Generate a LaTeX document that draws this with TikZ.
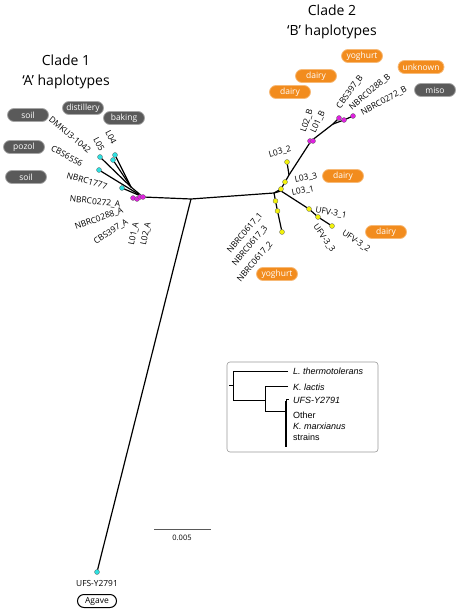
\documentclass[tikz,border=0pt]{standalone}
\usepackage{fontspec}
\setmainfont{Open Sans}
\newfontfamily\insetfont{Liberation Sans}
\usetikzlibrary{positioning}
\definecolor{pillgrey}{HTML}{5A5A5A}
\definecolor{pillorange}{HTML}{F28C1E}
\definecolor{tipcyan}{HTML}{2EE0E0}
\definecolor{tipmagenta}{HTML}{E020E0}
\definecolor{tipyellow}{HTML}{F2F20A}

\begin{document}
\begin{tikzpicture}[x=1pt,y=-1pt]
\tikzset{branch/.style={line width=1.2pt, black},
		leaf/.style={font=\fontsize{8.4}{9}\selectfont, inner sep=0pt},
		title/.style={font=\fontsize{14}{20}\selectfont, align=center},
		tipA/.style={circle, draw=black!60, line width=0.3pt, fill=tipcyan, inner sep=0pt, minimum size=5pt},
		tipM/.style={tipA, fill=tipmagenta},
		tipB/.style={tipA, fill=tipyellow},
		pill/.style={rectangle, rounded corners=6.5pt, minimum width=41pt, minimum height=13pt, inner sep=1pt, text=white, font=\fontsize{8.5}{9}\selectfont, line width=0.8pt},
		grey/.style={pill, fill=pillgrey, draw=black!35},
		orange/.style={pill, fill=pillorange, draw=pillorange!60},
		plain/.style={pill, fill=white, draw=black, text=black, line width=1pt},
		inset/.style={font=\insetfont\fontsize{9}{10}\selectfont, anchor=west, inner sep=0pt}}
\useasboundingbox (0,0) rectangle (459,612);

% titles
\node[title] (C1) at (66,72) {Clade 1\\‘A’ haplotypes};
\node[title] (C2) at (332,22) {Clade 2\\‘B’ haplotypes};

% tree skeleton
\coordinate (LH) at (143,197);
\coordinate (J) at (191,199);
\coordinate (RH) at (274,193);
\coordinate (Agv) at (97,572);
\coordinate (LA) at (131,187);
\coordinate (xL04) at (115,155);
\coordinate (xL05) at (113,160);
\coordinate (xDMK) at (100,157);
\coordinate (xCBS) at (99,170);
\coordinate (xN77) at (122,188);
\coordinate (RU) at (281,191);
\coordinate (xL031) at (281,189);
\coordinate (xL033) at (285,182);
\coordinate (RK) at (289,175);
\coordinate (xL032) at (287,162);
\coordinate (RM) at (311,141);
\coordinate (RP) at (333,124);
\coordinate (xCB) at (339,118);
\coordinate (xN88) at (344,120);
\coordinate (xN72) at (353,116);
\coordinate (xU1) at (309,209);
\coordinate (xU3) at (318,217);
\coordinate (xU2) at (332,226);
\coordinate (xN1) at (275.5,201);
\coordinate (xN3) at (277.5,211);
\coordinate (xN2) at (282,232);

\draw[branch] (LH) -- (J) -- (RH);
\draw[branch] (J) -- (Agv);
\draw[branch] (LH) -- (LA) -- (xL04);
\draw[branch] (LA) -- (xL05);
\draw[branch] (LA) -- (xDMK);
\draw[branch] (LH) -- (xCBS);
\draw[branch] (LH) -- (xN77);
\draw[branch] (RH) -- (xL031) -- (xL033) -- (RK) -- (RM) -- (RP) -- (xCB);
\draw[branch] (RK) -- (xL032);
\draw[branch] (RP) -- (xN88) -- (xN72);
\draw[branch] (RH) -- (RU) -- (xU1) -- (xU3) -- (xU2);
\draw[branch] (RH) -- (xN1) -- (xN3) -- (xN2);

% tips
\foreach \t in {xL04,xL05,xDMK,xCBS,xN77,Agv}
	\node[tipA] at (\t) {};
\node[tipM] at (133,198) {};
\node[tipM] at (137,199) {};
\node[tipM] at (140,197) {};
\node[tipM] at (143,197) {};
\node[tipM] at (310,141) {};
\node[tipM] at (313,141) {};
\foreach \t in {xCB,xN88,xN72}
	\node[tipM] at (\t) {};
\foreach \t in {xL031,xL033,xL032,xU1,xU3,xU2,xN1,xN3,xN2}
	\node[tipB] at (\t) {};

% clade 1 labels
\node[leaf, rotate=-40] (lDMK) at (70,135) {DMKU3-1042};
\node[leaf, rotate=-29] (lCBS) at (67,156) {CBS6556};
\node[leaf, rotate=-16] (lN77) at (87,181) {NBRC1777};
\node[leaf, rotate=-62] (lL05) at (99,144) {L05};
\node[leaf, rotate=-62] (lL04) at (111,137) {L04};
\node[leaf, rotate=-6] (lN72A) at (95,202) {NBRC0272\_A};
\node[leaf, rotate=20] (lN88A) at (99,219) {NBRC0288\_A};
\node[leaf, rotate=33] (lCBA) at (111,232) {CBS397\_A};
\node[leaf, rotate=78] (lL01A) at (134,234) {L01\_A};
\node[leaf, rotate=78] (lL02A) at (146,234) {L02\_A};

% clade 2 labels
\node[leaf, rotate=72] (lL02B) at (307,121) {L02\_B};
\node[leaf, rotate=65] (lL01B) at (318,122) {L01\_B};
\node[leaf, rotate=54] (lCBB) at (350,92) {CBS397\_B};
\node[leaf, rotate=40] (lN88B) at (370,92) {NBRC0288\_B};
\node[leaf, rotate=28] (lN72B) at (384,101) {NBRC0272\_B};
\node[leaf, rotate=15] (lL032) at (280,152) {L03\_2};
\node[leaf, rotate=12] (lL033) at (306,178) {L03\_3};
\node[leaf, rotate=12] (lL031) at (303,191) {L03\_1};
\node[leaf, rotate=-10] (lU1) at (331,213) {UFV-3\_1};
\node[leaf, rotate=-55] (lU3) at (324,238) {UFV-3\_3};
\node[leaf, rotate=-34] (lU2) at (356,241) {UFV-3\_2};
\node[leaf, rotate=50] (lN1) at (245,233) {NBRC0617\_1};
\node[leaf, rotate=50] (lN3) at (250,246) {NBRC0617\_3};
\node[leaf, rotate=50] (lN2) at (255,262) {NBRC0617\_2};
\node[leaf] (lUFS) at (97,583) {UFS-Y2791};

% sources
\node[grey] (soilA) at (28,115) {soil};
\node[grey] (dist) at (83,108) {distillery};
\node[grey] (bake) at (124,118) {baking};
\node[grey] (pozol) at (24,147) {pozol};
\node[grey] (soilB) at (26,177) {soil};
\node[orange] (yogA) at (362,56) {yoghurt};
\node[orange, minimum width=46pt] (unk) at (421,67) {unknown};
\node[orange] (dairyA) at (316,76) {dairy};
\node[orange] (dairyB) at (290,92) {dairy};
\node[grey] (miso) at (435,90) {miso};
\node[orange] (dairyC) at (343,176) {dairy};
\node[orange] (dairyD) at (386,232) {dairy};
\node[orange] (yogB) at (277,274) {yoghurt};
\node[plain, minimum width=39pt] (agave) at (97,601) {Agave};

% scale bar
\coordinate (sb1) at (154,529);
\coordinate (sb2) at (211,529);
\draw[line width=1pt, black!65] (sb1) -- (sb2);
\node[leaf, font=\fontsize{7.5}{8}\selectfont] (sbl) at (182,538) {0.005};

% inset
\node[draw=black!40, line width=0.6pt, rounded corners=3pt, minimum width=151pt, minimum height=90pt, inner sep=0pt] (box) at (302.5,407) {};
\coordinate (i0) at (229,385);
\coordinate (i1) at (233,371);
\coordinate (i2) at (233,400);
\coordinate (i3) at (288,371);
\coordinate (i4) at (265,400);
\coordinate (i5) at (265,386);
\coordinate (i6) at (265,411);
\coordinate (i7) at (288,386);
\coordinate (i8) at (286,411);
\coordinate (i9) at (286,401);
\coordinate (i10) at (286,447);
\draw[line width=0.8pt] (i0) -- (i1 |- i0);
\draw[line width=0.8pt] (i3) -- (i1) -- (i2) -- (i4);
\draw[line width=0.8pt] (i7) -- (i5) -- (i6) -- (i8);
\draw[line width=1.3pt] (i9) -- (i10);
\draw[line width=0.6pt] (i9) -- ++(0,-2) -- ++(2.5,0);
\node[inset] (lth) at (293,371) {\itshape L. thermotolerans};
\node[inset] (kla) at (293,387) {\itshape K. lactis};
\node[inset] (ufs) at (293,400) {\itshape UFS-Y2791};
\node[inset] (oth) at (293,415) {Other};
\node[inset] (kma) at (293,426) {\itshape K. marxianus};
\node[inset] (str) at (293,437) {strains};
\end{tikzpicture}
\end{document}
